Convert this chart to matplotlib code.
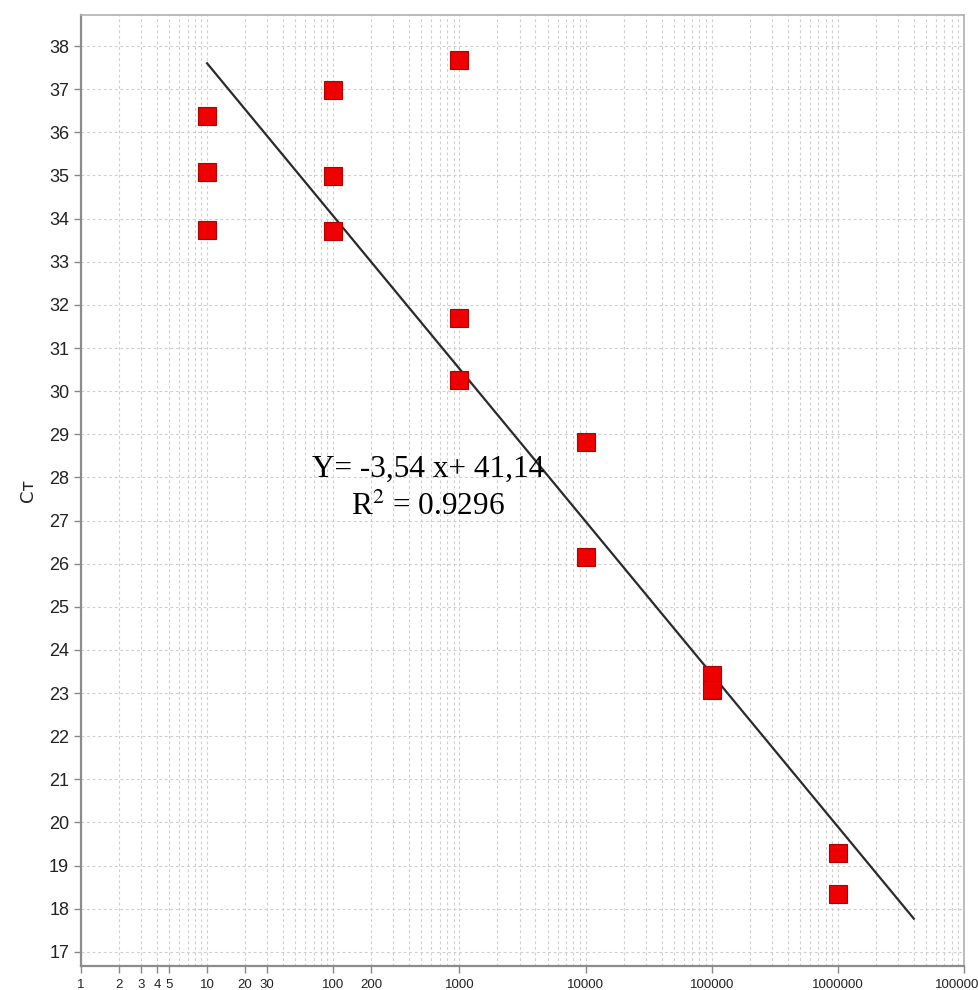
import numpy as np
import matplotlib
matplotlib.use("Agg")
import matplotlib.pyplot as plt
from matplotlib.ticker import FixedLocator, NullFormatter

# --- data ---
dilution = [10, 10, 10, 100, 100, 100, 1000, 1000, 1000,
            10000, 10000, 100000, 100000, 1000000, 1000000]
ct = [36.38, 35.08, 33.73, 36.98, 34.99, 33.72, 37.68, 31.69, 30.25,
      28.81, 26.16, 23.42, 23.08, 19.28, 18.35]

slope, intercept = -3.54, 41.14
fit_x = [10, 4.0e6]          # extent of the drawn trend line
eq_text = "Y= -3,54 x+ 41,14"
r2_text = "R$^2$ = 0.9296"

x_tick_pos = [1, 2, 3, 4, 5, 10, 20, 30, 100, 200, 1000, 10000,
              100000, 1000000, 10000000]
x_tick_lab = ["1", "2", "3", "4", "5", "10", "20", "30", "100", "200", "1000",
              "10000", "100000", "1000000", "10000000"]
y_ticks = list(range(17, 39))

plt.rcParams["mathtext.fontset"] = "stix"

fig = plt.figure(figsize=(9.79, 9.90), dpi=100)
ax = fig.add_axes([0.0827, 0.0242, 0.9020, 0.9606])

ax.set_xscale("log")
ax.set_xlim(1, 1e7)
ax.set_ylim(16.67, 38.72)

# grid
grid_kw = dict(color="#cfcfcf", linestyle=(0, (2.5, 2.5)), linewidth=0.8)
ax.xaxis.set_major_locator(FixedLocator(x_tick_pos))
minor = [m * 10 ** e for e in range(7) for m in range(2, 10)]
ax.xaxis.set_minor_locator(FixedLocator(minor))
ax.xaxis.set_minor_formatter(NullFormatter())
ax.set_xticklabels(x_tick_lab, fontsize=9.5, family="Liberation Sans", color="#222222")
ax.set_yticks(y_ticks)
ax.set_yticklabels([str(v) for v in y_ticks], fontsize=13, family="Liberation Sans", color="#222222")
ax.grid(True, which="both", axis="x", **grid_kw)
ax.grid(True, which="major", axis="y", **grid_kw)
ax.set_axisbelow(True)

ax.tick_params(axis="both", which="major", length=5, width=1, color="#888888", direction="out")
ax.tick_params(axis="x", which="minor", length=0)
ax.tick_params(axis="x", pad=4)

for side in ["left", "bottom"]:
    ax.spines[side].set_color("#8c8c8c")
    ax.spines[side].set_linewidth(1.6)
for side in ["top", "right"]:
    ax.spines[side].set_color("#b0b0b0")
    ax.spines[side].set_linewidth(1.2)

# trend line
fx = np.array(fit_x)
ax.plot(fx, slope * np.log10(fx) + intercept, color="#2a2a2a", linewidth=1.6, zorder=3)

# points
ax.plot(dilution, ct, linestyle="none", marker="s", markersize=12.5,
        markerfacecolor="#ee0000", markeredgecolor="#b00000", markeredgewidth=0.8, zorder=4)

# equation text
ax.text(562, 28.19, eq_text, ha="center", va="center", fontsize=22.5,
        family="Liberation Serif", color="black", zorder=5)
ax.text(562, 27.31, r2_text, ha="center", va="center", fontsize=22.5,
        family="Liberation Serif", color="black", zorder=5)

ax.set_ylabel("Ст", fontsize=13, family="DejaVu Sans", color="#222222", labelpad=9)

fig.savefig("out.png", dpi=100)
